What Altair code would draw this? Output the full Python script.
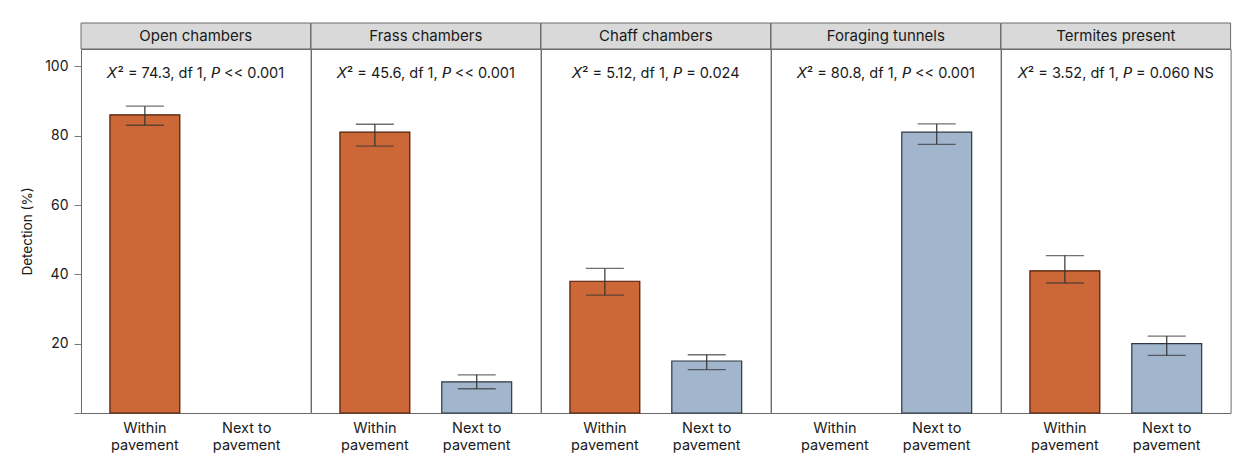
import altair as alt
import pandas as pd

panels = ["Open chambers", "Frass chambers", "Chaff chambers", "Foraging tunnels", "Termites present"]
groups = ["Within pavement", "Next to pavement"]

within_val = [86, 81, 38, None, 41]
within_lo = [83, 77, 34, None, 37.5]
within_hi = [88.5, 83.3, 41.7, None, 45.4]

next_val = [None, 9, 15, 81, 20]
next_lo = [None, 7, 12.5, 77.5, 16.6]
next_hi = [None, 11, 16.8, 83.4, 22.2]

chi_sq = ["74.3", "45.6", "5.12", "80.8", "3.52"]
p_text = ["<< 0.001", "<< 0.001", "= 0.024", "<< 0.001", "= 0.060 NS"]

rows = []
for i, p in enumerate(panels):
    note = f"\U0001D61F\u00b2 = {chi_sq[i]}, df 1, \U0001D617 {p_text[i]}"
    rows.append(dict(panel=p, group=groups[0], value=within_val[i], lo=within_lo[i], hi=within_hi[i], note=note))
    rows.append(dict(panel=p, group=groups[1], value=next_val[i], lo=next_lo[i], hi=next_hi[i], note=note))
df = pd.DataFrame(rows)

FONT = "Inter"
W, H = 229.6, 364

xenc = alt.X(
    "group:N", sort=groups,
    scale=alt.Scale(paddingInner=0.314, paddingOuter=0.284),
    axis=alt.Axis(
        title=None, ticks=False, domain=False, labelAngle=0, labelFontSize=14.5,
        labelColor="#1a1a1a", labelPadding=8, labelLineHeight=17, labelFont=FONT,
        labelExpr="[slice(datum.label, 0, lastindexof(datum.label, ' ')), slice(datum.label, lastindexof(datum.label, ' ') + 1)]",
    ),
)
yscale = alt.Scale(domain=[0, 105], nice=False)
yaxis = alt.Axis(
    title="Detection (%)", values=[0, 20, 40, 60, 80, 100],
    labelExpr="datum.value == 0 ? '' : datum.label",
    domain=False, grid=False, tickSize=7, tickColor="#777", tickWidth=1,
    labelFontSize=14, labelColor="#1a1a1a", labelPadding=6, labelFont=FONT,
    titleFontSize=13.5, titleFontWeight="normal", titleColor="#1a1a1a", titleFont=FONT,
    titlePadding=10,
)

bars = alt.Chart().mark_bar(strokeWidth=1.2).encode(
    x=xenc,
    y=alt.Y("value:Q", scale=yscale, axis=yaxis),
    fill=alt.Fill("group:N", sort=groups, scale=alt.Scale(domain=groups, range=["#CC6838", "#A1B6CD"]), legend=None),
    stroke=alt.Stroke("group:N", sort=groups, scale=alt.Scale(domain=groups, range=["#4a1a05", "#2e3642"]), legend=None),
)
rules = alt.Chart().mark_rule(color="#333", strokeWidth=1.2).encode(
    x=alt.X("group:N", sort=groups), y=alt.Y("lo:Q"), y2="hi:Q"
)
cap_lo = alt.Chart().mark_tick(color="#333", size=38, thickness=1.3).encode(
    x=alt.X("group:N", sort=groups), y=alt.Y("lo:Q")
)
cap_hi = alt.Chart().mark_tick(color="#333", size=38, thickness=1.3).encode(
    x=alt.X("group:N", sort=groups), y=alt.Y("hi:Q")
)
header_rect = alt.Chart().transform_filter(alt.datum.group == groups[0]).mark_rect(
    fill="#D9D9D9", stroke="#6a6a6a", strokeWidth=1
).encode(x=alt.value(0), x2=alt.value(W), y=alt.value(-26), y2=alt.value(0))
header_text = alt.Chart().transform_filter(alt.datum.group == groups[0]).mark_text(
    fontSize=15, font=FONT, color="#1a1a1a", align="center", baseline="middle"
).encode(x=alt.value(W / 2), y=alt.value(-13.5), text="panel:N")
note_text = alt.Chart().transform_filter(alt.datum.group == groups[0]).mark_text(
    fontSize=14.5, font=FONT, color="#1a1a1a", align="center", baseline="middle"
).encode(x=alt.value(W / 2), y=alt.value(25), text="note:N")

layered = alt.layer(bars, rules, cap_lo, cap_hi, header_rect, header_text, note_text).properties(width=W, height=H)

chart = layered.facet(
    data=df,
    column=alt.Column("panel:N", sort=panels, header=alt.Header(title=None, labels=False)),
    spacing=0,
    bounds="flush",
).properties(
    padding={"left": 12, "top": 14, "right": 5, "bottom": 5}
).configure_view(stroke="#6a6a6a", strokeWidth=1)

chart.save("out.html", embed_options={"renderer": "svg", "actions": False})
